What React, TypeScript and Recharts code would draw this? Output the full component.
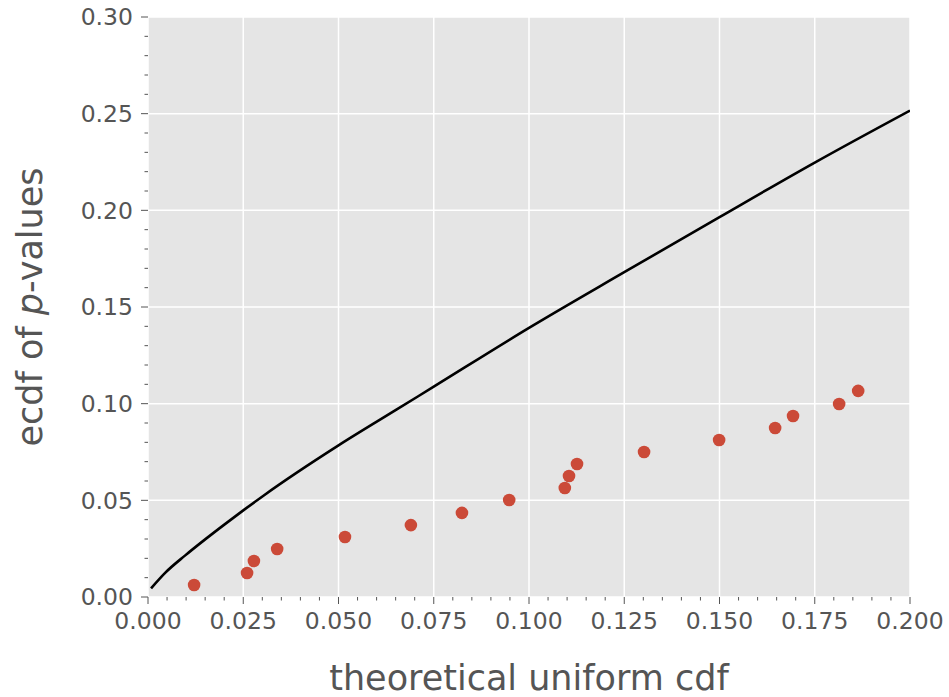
import React from "react";
import {
  ComposedChart,
  Line,
  Scatter,
  XAxis,
  YAxis,
  CartesianGrid,
  Label,
} from "recharts";

// theoretical uniform cdf (x) vs ecdf of p-values (y)
const pointX = [
  0.0121, 0.026, 0.0278, 0.0339, 0.0517, 0.069, 0.0824, 0.0948, 0.1094,
  0.1105, 0.1126, 0.1302, 0.1499, 0.1646, 0.1693, 0.1814, 0.1864,
];
const pointY = [
  0.0062, 0.0124, 0.0186, 0.0248, 0.031, 0.0372, 0.0435, 0.0502, 0.0564,
  0.0626, 0.0688, 0.075, 0.0812, 0.0874, 0.0936, 0.0998, 0.1066,
];

// reference curve
const curveX = [
  0.0008, 0.0045, 0.0097, 0.015, 0.0202, 0.025, 0.0303, 0.05, 0.0653, 0.075,
  0.1, 0.125, 0.15, 0.175, 0.2,
];
const curveY = [
  0.0045, 0.0125, 0.0214, 0.0298, 0.0377, 0.0448, 0.0524, 0.0784, 0.097,
  0.1088, 0.1392, 0.168, 0.1965, 0.2247, 0.2516,
];

const xMajor = [0, 0.025, 0.05, 0.075, 0.1, 0.125, 0.15, 0.175, 0.2];
const yMajor = [0, 0.05, 0.1, 0.15, 0.2, 0.25, 0.3];

const xAll: number[] = [];
for (let i = 0; i <= 40; i++) xAll.push(+(i * 0.005).toFixed(3));
const yAll: number[] = [];
for (let i = 0; i <= 30; i++) yAll.push(+(i * 0.01).toFixed(2));

const points = pointX.map((x, i) => ({ x, y: pointY[i] }));
const curve = curveX.map((x, i) => ({ x, y: curveY[i] }));

const isMajor = (list: number[], v: number) =>
  list.some((m) => Math.abs(m - v) < 1e-6);

const TICK = "#555555";
const FONT = "'DejaVu Sans', sans-serif";

function XTick({ x, y, payload }: any) {
  const major = isMajor(xMajor, payload.value);
  return (
    <g>
      <line x1={x} x2={x} y1={y} y2={y + (major ? 7 : 3.5)} stroke={TICK} strokeWidth={1} />
      {major && (
        <text
          x={x}
          y={y + 32}
          textAnchor="middle"
          fill={TICK}
          fontSize={23.5}
          fontFamily={FONT}
        >
          {payload.value.toFixed(3)}
        </text>
      )}
    </g>
  );
}

function YTick({ x, y, payload }: any) {
  const major = isMajor(yMajor, payload.value);
  return (
    <g>
      <line x1={x - (major ? 7 : 3.5)} x2={x} y1={y} y2={y} stroke={TICK} strokeWidth={1} />
      {major && (
        <text
          x={x - 15}
          y={y}
          dy="0.36em"
          textAnchor="end"
          fill={TICK}
          fontSize={23.5}
          fontFamily={FONT}
        >
          {payload.value.toFixed(2)}
        </text>
      )}
    </g>
  );
}

function XLabel({ viewBox }: any) {
  const cx = viewBox.x + viewBox.width / 2;
  return (
    <text x={cx} y={690} textAnchor="middle" fill={TICK} fontSize={35} fontFamily={FONT}>
      theoretical uniform cdf
    </text>
  );
}

function YLabel({ viewBox }: any) {
  const cy = viewBox.y + viewBox.height / 2;
  const lx = 42;
  return (
    <text
      x={lx}
      y={cy}
      textAnchor="middle"
      fill={TICK}
      fontSize={35}
      fontFamily={FONT}
      transform={`rotate(-90, ${lx}, ${cy})`}
    >
      ecdf of <tspan fontStyle="italic">p</tspan>-values
    </text>
  );
}

export default function App() {
  return (
    <div style={{ position: "absolute", left: 0, top: 0, background: "#fff" }}>
      <ComposedChart
        width={949}
        height={697}
        margin={{ top: 17, right: 39, bottom: 0, left: 0 }}
      >
        <CartesianGrid
          fill="#E5E5E5"
          stroke="#ffffff"
          strokeWidth={1.5}
          horizontalValues={yMajor}
          verticalValues={xMajor}
        />
        <XAxis
          dataKey="x"
          type="number"
          domain={[0, 0.2]}
          ticks={xAll}
          interval={0}
          tick={<XTick />}
          tickLine={false}
          axisLine={false}
          tickSize={0}
          tickMargin={0}
          height={100}
          allowDataOverflow
        >
          <Label content={<XLabel />} />
        </XAxis>
        <YAxis
          dataKey="y"
          type="number"
          domain={[0, 0.3]}
          ticks={yAll}
          interval={0}
          tick={<YTick />}
          tickLine={false}
          axisLine={false}
          tickSize={0}
          tickMargin={0}
          width={148}
          allowDataOverflow
        >
          <Label content={<YLabel />} />
        </YAxis>
        <Line
          data={curve}
          dataKey="y"
          type="monotone"
          stroke="#000000"
          strokeWidth={2.6}
          dot={false}
          activeDot={false}
          isAnimationActive={false}
        />
        <Scatter
          data={points}
          dataKey="y"
          fill="#CB4A38"
          shape={(p: any) => <circle cx={p.cx} cy={p.cy} r={6.3} fill="#CB4A38" />}
          isAnimationActive={false}
        />
      </ComposedChart>
    </div>
  );
}
